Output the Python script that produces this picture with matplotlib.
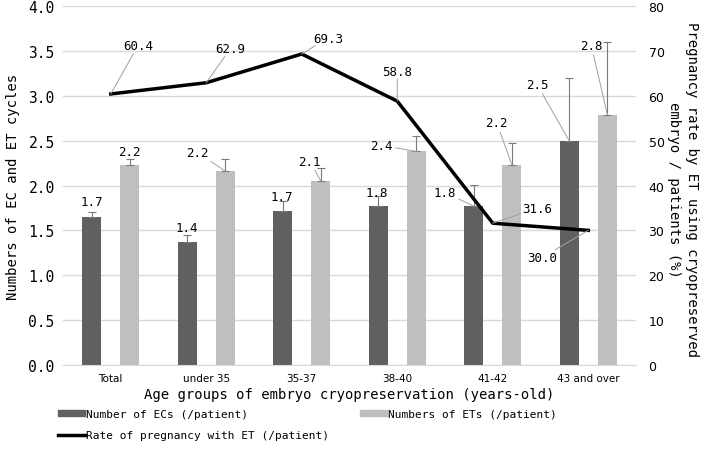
import numpy as np
import matplotlib
matplotlib.use("Agg")
import matplotlib.pyplot as plt
from matplotlib.lines import Line2D
from matplotlib.patches import Patch

# data
groups = ["Total", "under 35", "35-37", "38-40", "41-42", "43 and over"]
ec_mean = [1.65, 1.37, 1.72, 1.77, 1.77, 2.50]
ec_err = [0.06, 0.08, 0.11, 0.11, 0.24, 0.70]
ec_text = ["1.7", "1.4", "1.7", "1.8", "1.8", "2.5"]
et_mean = [2.23, 2.16, 2.05, 2.38, 2.23, 2.79]
et_err = [0.07, 0.13, 0.14, 0.17, 0.24, 0.81]
et_text = ["2.2", "2.2", "2.1", "2.4", "2.2", "2.8"]
preg_rate = [60.4, 62.9, 69.3, 58.8, 31.6, 30.0]

MONO = "DejaVu Sans Mono"
dark = "#606060"
light = "#bfbfbf"
grid_c = "#d9d9d9"

fig = plt.figure(figsize=(7.09, 4.52), dpi=100)
ax = fig.add_axes([63/709, 1-366/452, 573/709, 359/452])
ax2 = ax.twinx()

x = np.arange(len(groups))
w = 0.2
ax.bar(x - w, ec_mean, w, color=dark, zorder=2)
ax.bar(x + w, et_mean, w, color=light, zorder=2)
ax.errorbar(x - w, ec_mean, yerr=[np.zeros(len(x)), ec_err], fmt="none",
            ecolor="#7a7a7a", elinewidth=0.8, capsize=3, capthick=0.8, zorder=3)
ax.errorbar(x + w, et_mean, yerr=[np.zeros(len(x)), et_err], fmt="none",
            ecolor="#7a7a7a", elinewidth=0.8, capsize=3, capthick=0.8, zorder=3)

ax.set_xlim(-0.5, len(x) - 0.5)
ax.set_ylim(0, 4)
ax.set_yticks(np.arange(0, 4.01, 0.5))
ax.set_yticklabels([f"{v:.1f}" for v in np.arange(0, 4.01, 0.5)],
                   fontfamily=MONO, fontsize=10.5)
ax.set_xticks(x)
ax.set_xticklabels(groups, fontsize=7.5)
ax.yaxis.grid(True, color=grid_c, lw=1, zorder=0)
ax.set_axisbelow(True)
for s in ax.spines.values():
    s.set_visible(False)
ax.spines["bottom"].set_visible(True)
ax.spines["bottom"].set_color(grid_c)
ax.tick_params(length=0, pad=6)
ax.set_ylabel("Numbers of EC and ET cycles", fontfamily=MONO, fontsize=10, labelpad=6)
ax.set_xlabel("Age groups of embryo cryopreservation (years-old)",
              fontfamily=MONO, fontsize=10, labelpad=3)

ax2.plot(x, preg_rate, color="black", lw=2.5, zorder=4)
ax2.set_ylim(0, 80)
ax2.set_yticks(np.arange(0, 81, 10))
ax2.tick_params(length=0, pad=9, labelsize=9)
for s in ax2.spines.values():
    s.set_visible(False)
fig.text(683/709, 1-190/452,
         "Pregnancy rate by ET using cryopreserved\nembryo / patients (%)",
         fontfamily=MONO, fontsize=10, rotation=270, ha="center", va="center",
         linespacing=1.4, multialignment="center")

lead = dict(arrowstyle="-", color="#a0a0a0", lw=0.7, shrinkA=0, shrinkB=0)

# bar labels: (dx, dy) in pixels from bar top, and whether a leader is drawn
ec_off = [(0, 15, False), (0, 15, False), (-1, 14, False), (-1, 14, False),
          (-29, 14, True), (-32, 56, True)]
et_off = [(0, 13, False), (-28, 19, True), (-11, 20, True), (-35, 6, True),
          (-15, 42, True), (-16, 69, True)]
for i in range(len(x)):
    dx, dy, ld = ec_off[i]
    ax.annotate(ec_text[i], (x[i] - w, ec_mean[i]), xytext=(dx, dy),
                textcoords="offset pixels", ha="center", va="center",
                fontfamily=MONO, fontsize=9, zorder=5,
                arrowprops=lead if ld else None)
    dx, dy, ld = et_off[i]
    ax.annotate(et_text[i], (x[i] + w, et_mean[i]), xytext=(dx, dy),
                textcoords="offset pixels", ha="center", va="center",
                fontfamily=MONO, fontsize=9, zorder=5,
                arrowprops=lead if ld else None)

line_off = [(27, 48), (24, 34), (26, 16), (0, 30), (44, 15), (-46, -27)]
for i in range(len(x)):
    dx, dy = line_off[i]
    ax2.annotate(f"{preg_rate[i]:.1f}", (x[i], preg_rate[i]), xytext=(dx, dy),
                 textcoords="offset pixels", ha="center", va="center",
                 fontfamily=MONO, fontsize=9, zorder=6, arrowprops=lead,
                 bbox=dict(boxstyle="square,pad=0.1", fc="none", ec="none"))

handles = [Patch(color=dark), Line2D([], [], color="black", lw=2.5), Patch(color=light)]
labels = ["Number of ECs (/patient)", "Rate of pregnancy with ET (/patient)",
          "Numbers of ETs (/patient)"]
fig.legend(handles, labels, loc="upper left", bbox_to_anchor=(58/709, 1-410/452),
           ncol=2, frameon=False, prop={"family": MONO, "size": 8},
           handlelength=2.4, handleheight=0.5, handletextpad=0.1,
           columnspacing=2.8, labelspacing=1.0, borderpad=0, borderaxespad=0)

fig.savefig("out.png", dpi=100)
